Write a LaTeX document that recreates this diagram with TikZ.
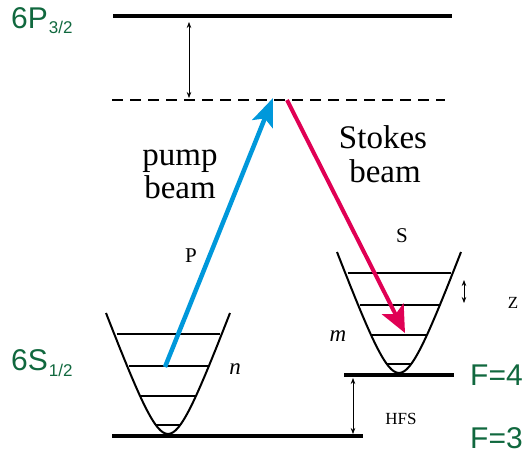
\documentclass[tikz,border=0pt]{standalone}
\usepackage{fontspec}
\setmainfont{Liberation Serif}
\setsansfont{Liberation Sans}
\usepackage{tikz}
\usetikzlibrary{arrows.meta,positioning}
\definecolor{stategreen}{RGB}{16,104,62}
\definecolor{pumpblue}{RGB}{0,152,219}
\definecolor{stokesred}{RGB}{224,0,84}
\tikzset{node distance=2.0cm, auto}

\begin{document}
\begin{tikzpicture}[
  x=1pt, y=-1pt,
  level/.style={line width=4pt},
  virtual/.style={line width=2pt, dash pattern=on 11pt off 7pt},
  well/.style={line width=2pt},
  vib/.style={line width=1.3pt},
  gap/.style={line width=0.7pt, {Stealth[length=6pt,width=4.5pt]}-{Stealth[length=6pt,width=4.5pt]}},
  state/.style={text=stategreen, font=\sffamily\fontsize{30}{30}\selectfont, inner sep=0pt, anchor=base west},
  beamtext/.style={font=\fontsize{33}{33}\selectfont, inner sep=0pt, anchor=base},
  tag/.style={font=\fontsize{21}{21}\selectfont, inner sep=0pt},
  itag/.style={font=\itshape\fontsize{23}{23}\selectfont, inner sep=0pt},
  stag/.style={font=\fontsize{17}{17}\selectfont, inner sep=0pt}
]
\useasboundingbox (0,0) rectangle (525,458);

\draw[level] (113,16) -- (452,16);
\draw[virtual] (112,100) -- (445,100);
\draw[level] (344,375) -- (454,375);
\draw[level] (112,436) -- (363,436);

\foreach \bx/\by in {168/434, 399/373} {
  \draw[well] (\bx-62,\by-121) .. controls (\bx-28,\by-34) and (\bx-13,\by) .. (\bx,\by)
              .. controls (\bx+13,\by) and (\bx+28,\by-34) .. (\bx+62,\by-121);
  \foreach \h/\w in {100/51.5, 68/39.5, 38/28, 9/13}
    \draw[vib] (\bx-\w,\by-\h) -- (\bx+\w,\by-\h);
}

\coordinate (detP) at (189,22);
\coordinate (detV) at (189,98);
\coordinate (hfsU) at (353,378);
\coordinate (hfsD) at (353,434);
\coordinate (zU) at (464,280);
\coordinate (zD) at (464,303);
\coordinate (pumpS) at (165,367);
\coordinate (pumpE) at (273,98);
\coordinate (stokesS) at (287,100);
\coordinate (stokesE) at (405,333);

\draw[gap] (detP) -- (detV);
\draw[gap] (hfsU) -- (hfsD);
\draw[gap] (zU) -- (zD);

\draw[pumpblue, line width=4.5pt, -{Stealth[length=28pt,width=22pt,inset=6pt]}] (pumpS) -- (pumpE);
\draw[stokesred, line width=4pt, -{Stealth[length=27pt,width=24pt,inset=6pt]}] (stokesS) -- (stokesE);

\node[state] (p32) at (11,28) {6P\kern1pt\raisebox{-5pt}{\fontsize{17}{17}\selectfont 3/2}};
\node[state] (s12) at (11,370) {6S\kern1pt\raisebox{-6pt}{\fontsize{17}{17}\selectfont 1/2}};
\node[state] (f4) at (470,385) {F=4};
\node[state] (f3) at (470,448) {F=3};

\node[beamtext] (pump) at (180,165) {pump};
\node[beamtext] (pumpb) at (180,198) {beam};
\node[beamtext] (stokes) at (383,148) {Stokes};
\node[beamtext] (stokesb) at (385,182) {beam};

\node[tag] (ptag) at (191,256) {P};
\node[tag] (stag) at (402,236) {S};
\node[itag] (n) at (235,369) {n};
\node[itag] (m) at (338,336) {m};
\node[stag] (hfs) at (401,419) {HFS};
\node[stag] (z) at (513,303) {Z};
\end{tikzpicture}
\end{document}
